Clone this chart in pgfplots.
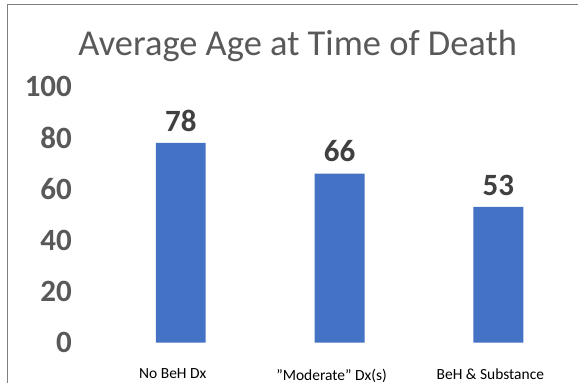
\documentclass[border=0pt]{standalone}
\usepackage{pgfplots}
\pgfplotsset{compat=1.18}
\usepackage{fontspec}
\setmainfont{Carlito}
\definecolor{barblue}{HTML}{4472C4}
\definecolor{tickgray}{HTML}{595959}
\definecolor{lblgray}{HTML}{404040}
\definecolor{framegray}{HTML}{7F7F7F}
\begin{document}
\begin{tikzpicture}
\fill[white] (0pt,0pt) rectangle (579pt,383pt);
\draw[framegray,line width=1.5pt] (7.5pt,0pt) -- (7.5pt,378.5pt) -- (579pt,378.5pt);
\node[color=tickgray,font=\fontsize{36.5}{40}\selectfont,anchor=base] at (298pt,327pt) {Average Age at Time of Death};
\begin{axis}[
  at={(101.5pt,40pt)}, anchor=south west,
  scale only axis, width=477pt, height=256.4pt,
  xmin=-0.5, xmax=2.5, ymin=0, ymax=100,
  axis line style={draw=none},
  ytick={0,20,40,60,80,100},
  xtick={0,1,2},
  xticklabels={No BeH Dx, ”Moderate” Dx(s), BeH \& Substance},
  major tick length=0pt,
  /pgf/number format/assume math mode=true,
  yticklabel style={font=\fontsize{31}{33}\selectfont\bfseries, color=tickgray, xshift=-26pt},
  xticklabel style={font=\fontsize{15.5}{17}\selectfont, color=black, yshift=-23pt, xshift=-8pt},
  nodes near coords,
  every node near coord/.append style={font=\fontsize{31}{33}\selectfont\bfseries, color=lblgray, yshift=8pt},
  clip=false,
]
\addplot[ybar, bar width=50pt, fill=barblue, draw=none] coordinates {(0,78) (1,66) (2,53)};
\end{axis}
\end{tikzpicture}
\end{document}
